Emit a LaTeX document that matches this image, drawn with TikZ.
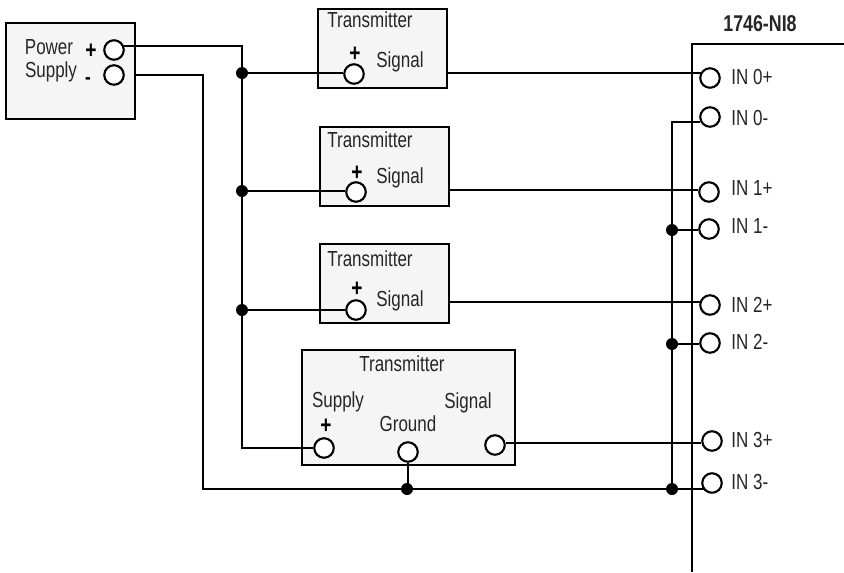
\documentclass[tikz,border=0pt]{standalone}
\usepackage{fontspec}
\setmainfont[FakeStretch=0.78]{Liberation Sans}
\tikzset{
  box/.style={draw, line width=1.2pt, fill=black!4, inner sep=0pt, anchor=north west},
  term/.style={draw, circle, line width=1.2pt, fill=white, inner sep=0pt, minimum size=0.39cm},
  wire/.style={line width=1.2pt},
  dot/.style={circle, fill=black, inner sep=0pt, minimum size=0.24cm},
  lbl/.style={font=\fontsize{12.4}{14}\selectfont, inner sep=0pt, text=black!85},
  sign/.style={font=\fontsize{14}{14}\selectfont\bfseries, inner sep=0pt, text height=0.66em, text depth=0pt}
}
\begin{document}
\begin{tikzpicture}[x=0.02cm,y=-0.02cm]
    \useasboundingbox (0,0) rectangle (844,572);

    % module
    \draw[line width=1.2pt] (844,44) -- (692,44) -- (692,572);
    \node[lbl, font=\fontsize{13}{15}\selectfont\bfseries] (module) at (760,24) {1746-NI8};

    % supply and transmitters
    \node[box, minimum width=2.58cm, minimum height=1.92cm] (supply) at (5,22) {};
    \node[box, minimum width=2.58cm, minimum height=1.58cm] (tx0) at (317,8) {};
    \node[box, minimum width=2.58cm, minimum height=1.58cm] (tx1) at (319,126) {};
    \node[box, minimum width=2.58cm, minimum height=1.58cm] (tx2) at (319,243) {};
    \node[box, minimum width=4.26cm, minimum height=2.3cm] (tx3) at (301,349) {};

    \node[lbl] at (49,47) {Power};
    \node[lbl] at (51,72) {Supply};
    \node[sign] at (91,53) {+};
    \node[sign, font=\fontsize{12.4}{14}\selectfont\bfseries] at (88,79) {-};

    \node[lbl] at (370,20) {Transmitter};
    \node[lbl] at (370,140) {Transmitter};
    \node[lbl] at (370,259) {Transmitter};
    \node[lbl] at (402,364) {Transmitter};

    \node[sign] at (355,56) {+};
    \node[sign] at (357,175) {+};
    \node[sign] at (357,291) {+};
    \node[sign] at (326,428) {+};

    \node[lbl] at (400,62) {Signal};
    \node[lbl] at (400,178) {Signal};
    \node[lbl] at (400,301) {Signal};
    \node[lbl] at (468,403) {Signal};
    \node[lbl] at (338,402) {Supply};
    \node[lbl] at (408,424) {Ground};

    % terminals
    \node[term] (psp) at (114,50) {};
    \node[term] (psm) at (114,75) {};
    \node[term] (sig0) at (354,74) {};
    \node[term] (sig1) at (356,192) {};
    \node[term] (sig2) at (356,310) {};
    \node[term] (sup3) at (324,448) {};
    \node[term] (gnd3) at (408,452) {};
    \node[term] (sig3) at (495,445) {};

    \node[term] (in0p) at (710,78) {};
    \node[term] (in0m) at (710,117) {};
    \node[term] (in1p) at (709,192) {};
    \node[term] (in1m) at (709,229) {};
    \node[term] (in2p) at (710,305) {};
    \node[term] (in2m) at (710,343) {};
    \node[term] (in3p) at (712,441) {};
    \node[term] (in3m) at (712,483) {};

    \node[lbl, anchor=west] at (731,77) {IN 0+};
    \node[lbl, anchor=west] at (731,118) {IN 0-};
    \node[lbl, anchor=west] at (731,188) {IN 1+};
    \node[lbl, anchor=west] at (731,226) {IN 1-};
    \node[lbl, anchor=west] at (731,305) {IN 2+};
    \node[lbl, anchor=west] at (731,342) {IN 2-};
    \node[lbl, anchor=west] at (731,440) {IN 3+};
    \node[lbl, anchor=west] at (731,482) {IN 3-};

    % junctions
    \node[dot] (j0) at (242,73) {};
    \node[dot] (j1) at (242,191) {};
    \node[dot] (j2) at (242,310) {};
    \node[dot] (jg) at (407,489) {};
    \node[dot] (jm1) at (672,230) {};
    \node[dot] (jm2) at (672,344) {};
    \node[dot] (jm3) at (672,489) {};

    % wiring
    \draw[wire] (psp.20) -- (psp.20 -| j0) -- (j2) |- (sup3);
    \draw[wire] (supply.east |- psm) -| (203,489) -- (jg) -- (jm3) -- (jm3 -| in3m.225);
    \draw[wire] (j0) -- (j0 -| sig0.west);
    \draw[wire] (j1) -- (j1 -| sig1.west);
    \draw[wire] (j2) -- (sig2);
    \draw[wire] (tx0.east |- in0p.150) -- (in0p.150);
    \draw[wire] (tx1.east |- in1p.170) -- (in1p.170);
    \draw[wire] (tx2.east |- in2p.165) -- (in2p.165);
    \draw[wire] (sig3.10) -- (sig3.10 -| in3p.west);
    \draw[wire] (gnd3) -- (gnd3 |- jg);
    \draw[wire] (in0m.205) -| (jm3);
    \draw[wire] (jm1) -- (jm1 -| in1m.west);
    \draw[wire] (jm2) -- (jm2 -| in2m.west);
  \end{tikzpicture}
\end{document}
